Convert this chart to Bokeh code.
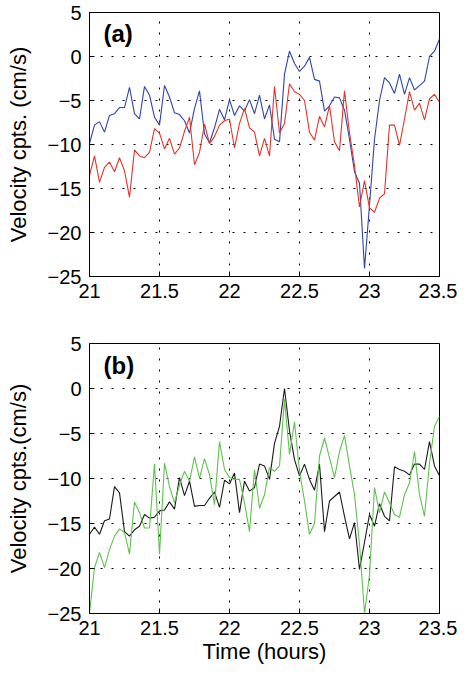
import numpy as np
from bokeh.plotting import figure
from bokeh.layouts import column
from bokeh.models import Range1d, FixedTicker, Label, ColumnDataSource
from bokeh.embed import file_html
from bokeh.resources import INLINE

# ---------------- data ----------------
time_hours = np.linspace(21.0, 23.5, 71)

# panel (a)
blue_a = [-9.9, -7.8, -7.4, -8.6, -6.7, -6.5, -5.8, -5.8, -3.5, -6.5,
          -7.1, -3.4, -4.4, -6.9, -7.8, -3.3, -4.6, -6.4, -6.6, -7.3,
          -8.7, -5.9, -3.9, -8.8, -9.8, -8.1, -6.0, -7.2, -4.9, -6.7,
          -5.6, -6.2, -4.9, -6.5, -4.4, -7.1, -5.5, -9.4, -9.7, -2.0,
          0.6, -0.8, -1.7, -1.1, -0.1, -2.6, -2.8, -6.2, -5.6, -4.6,
          -4.7, -6.1, -9.4, -13.1, -14.4, -24.1, -16.9, -9.4, -5.0, -2.4,
          -3.0, -4.2, -2.0, -4.3, -2.4, -3.8, -3.3, -2.8, 0.0, 0.6, 2.0]
red_a = [-13.5, -11.3, -14.3, -12.6, -12.0, -13.1, -11.5, -13.0, -16.0, -10.6,
         -11.3, -11.5, -10.9, -8.2, -8.7, -10.5, -9.3, -11.1, -10.4, -8.5,
         -6.9, -12.3, -10.9, -7.7, -9.9, -9.1, -7.8, -7.3, -7.1, -10.4,
         -7.6, -5.9, -8.1, -8.6, -11.3, -9.3, -11.3, -3.4, -8.7, -7.6,
         -3.1, -4.0, -4.3, -5.0, -8.6, -9.5, -6.8, -8.0, -5.6, -9.7,
         -10.7, -3.9, -8.7, -12.4, -17.1, -14.1, -17.2, -17.7, -16.1, -15.6,
         -7.8, -7.8, -10.1, -7.1, -4.0, -6.1, -5.3, -7.2, -4.8, -4.3, -5.2]

# panel (b)
black_b = [-16.2, -15.4, -16.2, -14.7, -14.5, -10.9, -11.6, -15.9, -16.4, -15.7,
           -15.3, -14.0, -14.4, -14.3, -13.6, -13.5, -12.6, -13.4, -9.9, -11.9,
           -10.3, -13.1, -13.0, -13.0, -12.2, -11.5, -13.2, -10.2, -10.6, -9.4,
           -13.8, -10.3, -11.4, -11.0, -8.4, -8.6, -10.1, -6.1, -4.2, 0.0,
           -4.7, -7.9, -9.7, -8.4, -10.1, -11.3, -8.4, -15.9, -12.5, -12.0,
           -11.5, -14.2, -16.7, -14.9, -20.1, -17.1, -14.0, -15.3, -12.8, -14.2,
           -14.7, -8.7, -9.0, -9.2, -9.6, -8.4, -8.4, -9.0, -5.9, -8.6, -9.7]
green_b = [-25.0, -19.9, -18.2, -19.9, -17.9, -16.4, -15.6, -16.0, -18.4, -12.6,
           -13.8, -15.5, -15.5, -8.4, -18.4, -8.3, -10.9, -12.7, -10.7, -9.2,
           -10.3, -7.6, -10.0, -7.8, -9.6, -12.9, -5.9, -9.0, -9.9, -10.1,
           -10.1, -12.7, -15.9, -9.0, -13.3, -11.8, -8.8, -9.2, -8.6, -1.2,
           -7.3, -3.7, -9.2, -12.5, -16.2, -15.0, -7.5, -5.5, -7.7, -9.9,
           -7.0, -5.2, -8.6, -11.8, -17.3, -25.0, -20.7, -11.0, -13.8, -11.5,
           -12.7, -14.0, -14.3, -11.8, -10.5, -7.0, -11.8, -14.2, -8.3, -4.2, -3.1]

x_ticks = [21, 21.5, 22, 22.5, 23, 23.5]
y_ticks = [-25, -20, -15, -10, -5, 0, 5]
y_tick_labels = ["\u221225", "\u221220", "\u221215", "\u221210", "\u22125", "0", "5"]
panel_labels = ["(a)", "(b)"]
y_axis_labels = ["Velocity cpts. (cm/s)", "Velocity cpts.(cm/s)"]
x_axis_label = "Time (hours)"

FONT = "Liberation Sans"


def make_fig(height, b_top, b_bottom, ylabel, xlabel=None):
    p = figure(width=457, height=height,
               x_range=Range1d(21, 23.5), y_range=Range1d(-25, 5),
               output_backend="svg", toolbar_location=None,
               min_border_left=89, min_border_right=18,
               min_border_top=b_top, min_border_bottom=b_bottom,
               background_fill_color="white", border_fill_color="white")
    p.xaxis.ticker = FixedTicker(ticks=x_ticks)
    p.yaxis.ticker = FixedTicker(ticks=y_ticks)
    p.yaxis.major_label_overrides = {t: s for t, s in zip(y_ticks, y_tick_labels)}
    for ax in p.axis:
        ax.major_label_text_font = FONT
        ax.major_label_text_font_size = "20px"
        ax.major_label_text_color = "black"
        ax.axis_line_color = "black"
        ax.major_tick_line_color = "black"
        ax.major_tick_in = 5
        ax.major_tick_out = 0
        ax.minor_tick_in = 0
        ax.minor_tick_out = 0
        ax.axis_label_text_font = FONT
        ax.axis_label_text_font_size = "22px"
        ax.axis_label_text_font_style = "normal"
        ax.axis_label_text_color = "black"
    p.xaxis.major_label_standoff = 7
    p.yaxis.major_label_standoff = 8
    p.yaxis.axis_label = ylabel
    p.yaxis.axis_label_standoff = 14
    if xlabel:
        p.xaxis.axis_label = xlabel
        p.xaxis.axis_label_standoff = 1
    for g in (p.xgrid, p.ygrid):
        g.grid_line_color = "black"
        g.grid_line_dash = "2 9"
        g.grid_line_width = 1
        g.grid_line_alpha = 1.0
    p.outline_line_color = "black"
    p.outline_line_width = 1
    p.outline_line_alpha = 1.0
    return p


src = ColumnDataSource(dict(t=time_hours, blue=blue_a, red=red_a,
                            black=black_b, green=green_b))

p1 = make_fig(308, 12, 32, y_axis_labels[0])
p1.line("t", "blue", source=src, line_color="#2E44AA", line_width=1.1)
p1.line("t", "red", source=src, line_color="#E5332A", line_width=1.1)
p1.add_layout(Label(x=21.1, y=4.2, text=panel_labels[0], text_font=FONT,
                    text_font_size="24px", text_font_style="bold",
                    text_baseline="top", text_color="black"))

p2 = make_fig(360, 35, 55, y_axis_labels[1], x_axis_label)
p2.line("t", "black", source=src, line_color="#1A1A1A", line_width=1.1)
p2.line("t", "green", source=src, line_color="#5EC34D", line_width=1.1)
p2.add_layout(Label(x=21.1, y=4.1, text=panel_labels[1], text_font=FONT,
                    text_font_size="24px", text_font_style="bold",
                    text_baseline="top", text_color="black"))

layout = column(p1, p2)
open("out.html", "w").write(file_html(layout, INLINE))
